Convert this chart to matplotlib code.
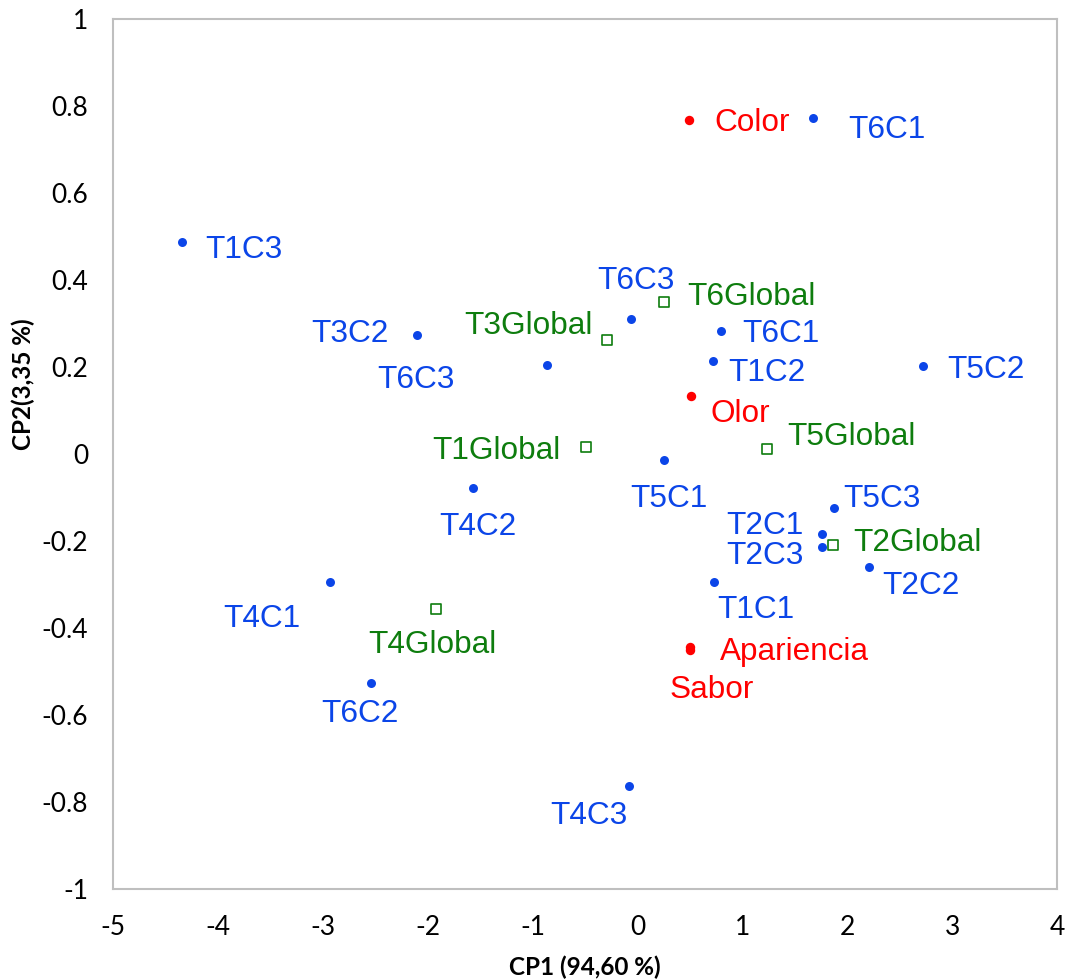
import matplotlib
matplotlib.use("Agg")
import matplotlib.pyplot as plt

# ---- data ----
obs_labels = ["T6C1", "T1C3", "T3C2", "T6C3", "T4C2", "T6C3", "T6C1", "T1C2", "T5C2",
              "T5C1", "T5C3", "T2C1", "T2C3", "T2C2", "T1C1", "T4C1", "T6C2", "T4C3"]
obs_x = [1.674, -4.342, -2.101, -0.862, -1.567, -0.061, 0.797, 0.720, 2.722,
         0.254, 1.874, 1.760, 1.760, 2.208, 0.730, -2.930, -2.539, -0.080]
obs_y = [0.772, 0.487, 0.274, 0.205, -0.078, 0.310, 0.283, 0.214, 0.202,
         -0.014, -0.124, -0.184, -0.214, -0.260, -0.294, -0.294, -0.526, -0.763]

var_labels = ["Color", "Olor", "Apariencia", "Sabor"]
var_x = [0.492, 0.511, 0.501, 0.505]
var_y = [0.768, 0.133, -0.444, -0.451]

glob_labels = ["T6Global", "T3Global", "T1Global", "T5Global", "T2Global", "T4Global"]
glob_x = [0.254, -0.290, -0.490, 1.235, 1.865, -1.920]
glob_y = [0.349, 0.262, 0.016, 0.011, -0.209, -0.356]

x_ticks = [-5, -4, -3, -2, -1, 0, 1, 2, 3, 4]
y_ticks = [-1, -0.8, -0.6, -0.4, -0.2, 0, 0.2, 0.4, 0.6, 0.8, 1]
x_title = "CP1 (94,60 %)"
y_title = "CP2(3,35 %)"

# ---- label placement (pixel offsets of label from its marker; dy positive = downward) ----
obs_place = [("left", 35, 8), ("left", 23, 4), ("right", -28, -4), ("right", -92, 12),
             ("center", 5, 36), ("center", 5, -42), ("left", 21, 0), ("left", 15, 9),
             ("left", 24, 0), ("center", 5, 35), ("left", 9, -12), ("right", -19, -12),
             ("right", -18, 5), ("left", 13, 15), ("left", 3, 25), ("right", -30, 34),
             ("center", -11, 28), ("right", -2, 27)]
var_place = [("left", 25, 0), ("left", 19, 14), ("left", 30, 1), ("center", 21, 36)]
glob_place = [("left", 23, -9), ("right", -14, -18), ("right", -26, 0),
              ("left", 20, -16), ("left", 20, -5), ("center", -4, 33)]

BLUE = "#0B45E8"
RED = "#FF0000"
GREEN = "#0E7D0E"
LABEL_FONT = "Liberation Sans"
LABEL_SIZE = 22.7
CAP_HALF = 11.5  # half cap height in pixels

fig = plt.figure(figsize=(10.69, 9.80), dpi=100)
ax = fig.add_axes([113 / 1069, 1 - 889 / 980, (1057 - 113) / 1069, (889 - 19) / 980])

ax.scatter(obs_x, obs_y, s=42, color=BLUE, zorder=3, linewidths=0)
ax.scatter(var_x, var_y, s=46, color=RED, zorder=3, linewidths=0)
ax.scatter(glob_x, glob_y, s=42, marker="s", facecolors="white", edgecolors=GREEN,
           linewidths=1.2, zorder=3)


def put_labels(labels, xs, ys, places, color):
    for lab, x, y, (ha, dx, dy) in zip(labels, xs, ys, places):
        ax.annotate(lab, (x, y), xytext=(dx, -dy - CAP_HALF), textcoords="offset pixels",
                    ha=ha, va="baseline", color=color, fontsize=LABEL_SIZE,
                    family=LABEL_FONT, zorder=4)


put_labels(obs_labels, obs_x, obs_y, obs_place, BLUE)
put_labels(var_labels, var_x, var_y, var_place, RED)
put_labels(glob_labels, glob_x, glob_y, glob_place, GREEN)

ax.set_xlim(-5, 4)
ax.set_ylim(-1, 1)
ax.set_xticks(x_ticks)
ax.set_yticks(y_ticks)
ax.set_xticklabels([f"{t:g}" for t in x_ticks])
ax.set_yticklabels([f"{t:g}" for t in y_ticks])
ax.tick_params(length=0, labelsize=19, colors="black")
ax.tick_params(axis="x", pad=19)
ax.tick_params(axis="y", pad=18)
for lab in ax.get_xticklabels() + ax.get_yticklabels():
    lab.set_family("Lato")
for sp in ax.spines.values():
    sp.set_color("#BFBFBF")
    sp.set_linewidth(1.5)

fig.text(585 / 1069, 1 - 967 / 980, x_title, ha="center", va="center",
         fontsize=17.5, fontweight="bold", family="Lato")
fig.text(23 / 1069, 1 - 384 / 980, y_title, ha="center", va="center", rotation=90,
         fontsize=17.5, fontweight="bold", family="Lato")

fig.savefig("out.png", dpi=100)
